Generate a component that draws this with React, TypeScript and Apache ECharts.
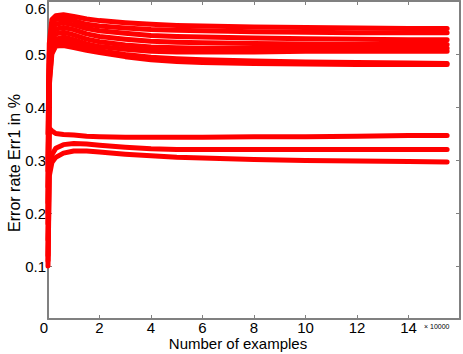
import React, { useEffect, useRef } from "react";
import * as echarts from "echarts";

// x positions (in units of 10000 examples)
const xs = [0, 0.05, 0.15, 0.3, 0.6, 1, 1.5, 2, 3, 4, 5, 6, 8, 10, 12, 14, 15.5];

// upper group of error curves
const u1 = [0.35, 0.52, 0.565, 0.572, 0.574, 0.571, 0.566, 0.563, 0.559, 0.556, 0.554, 0.553, 0.551, 0.55, 0.549, 0.548, 0.548];
const u2 = [0.3, 0.5, 0.555, 0.565, 0.567, 0.563, 0.556, 0.553, 0.549, 0.546, 0.545, 0.544, 0.542, 0.541, 0.54, 0.54, 0.54];
const u3 = [0.28, 0.49, 0.545, 0.556, 0.559, 0.555, 0.548, 0.544, 0.539, 0.535, 0.533, 0.532, 0.53, 0.529, 0.528, 0.527, 0.527];
const u4 = [0.25, 0.48, 0.535, 0.547, 0.55, 0.546, 0.538, 0.533, 0.528, 0.524, 0.522, 0.521, 0.52, 0.519, 0.518, 0.518, 0.518];
const u5 = [0.22, 0.47, 0.525, 0.538, 0.541, 0.536, 0.528, 0.523, 0.517, 0.513, 0.512, 0.511, 0.511, 0.511, 0.511, 0.511, 0.511];
const u6 = [0.2, 0.46, 0.515, 0.528, 0.532, 0.527, 0.519, 0.514, 0.509, 0.505, 0.504, 0.504, 0.504, 0.505, 0.505, 0.505, 0.505];
const u7 = [0.18, 0.45, 0.505, 0.52, 0.524, 0.52, 0.512, 0.506, 0.499, 0.494, 0.491, 0.489, 0.487, 0.485, 0.484, 0.483, 0.482];
const u8 = [0.15, 0.44, 0.5, 0.515, 0.516, 0.512, 0.507, 0.503, 0.495, 0.489, 0.486, 0.484, 0.482, 0.481, 0.48, 0.48, 0.48];

// lower group of error curves
const l1 = [0.12, 0.36, 0.355, 0.35, 0.348, 0.347, 0.345, 0.344, 0.343, 0.343, 0.343, 0.343, 0.344, 0.344, 0.345, 0.346, 0.346];
const l2 = [0.11, 0.29, 0.31, 0.322, 0.329, 0.331, 0.33, 0.328, 0.324, 0.321, 0.32, 0.32, 0.32, 0.32, 0.32, 0.32, 0.32];
const l3 = [0.1, 0.27, 0.295, 0.305, 0.313, 0.317, 0.317, 0.315, 0.311, 0.308, 0.305, 0.304, 0.301, 0.299, 0.298, 0.297, 0.296];

const allSeries = [u1, u2, u3, u4, u5, u6, u7, u8, l1, l2, l3];

const xTicks = [0, 2, 4, 6, 8, 10, 12, 14];
const yTicks = [0.1, 0.2, 0.3, 0.4, 0.5, 0.6];

const FONT = "'Liberation Sans', Arial, Helvetica, sans-serif";
const AXIS_COLOR = "#808080";

export default function App() {
  const ref = useRef<HTMLDivElement>(null);
  useEffect(() => {
    if (!ref.current) return;
    const chart = echarts.init(ref.current, undefined, { renderer: "svg" });
    const axisLine = { show: true, onZero: false, lineStyle: { color: AXIS_COLOR, width: 2 } };
    const axisTick = { show: true, inside: true, length: 4, lineStyle: { color: AXIS_COLOR, width: 1 } };
    chart.setOption({
      animation: false,
      backgroundColor: "#ffffff",
      grid: { left: 48, right: 2, top: 1, bottom: 35, containLabel: false },
      xAxis: [
        {
          type: "value",
          min: 0,
          max: 16,
          interval: 2,
          position: "bottom",
          axisLine,
          axisTick,
          splitLine: { show: false },
          axisLabel: {
            color: "#000",
            fontSize: 15,
            fontFamily: FONT,
            margin: 1,
            formatter: (v: number) =>
              v === 0 ? "{z|0}" : xTicks.includes(v) ? String(v) : "",
            rich: { z: { fontSize: 15, fontFamily: FONT, color: "#000", padding: [0, 8, 0, 0] } },
          },
        },
        {
          type: "value",
          min: 0,
          max: 16,
          interval: 2,
          position: "top",
          axisLine,
          axisTick,
          splitLine: { show: false },
          axisLabel: { show: false },
        },
      ],
      yAxis: [
        {
          type: "value",
          min: 0,
          max: 0.6,
          interval: 0.1,
          position: "left",
          axisLine,
          axisTick,
          splitLine: { show: false },
          axisLabel: {
            color: "#000",
            fontSize: 15,
            fontFamily: FONT,
            margin: 2,
            formatter: (v: number) => {
              const r = Math.round(v * 10) / 10;
              if (r === 0.6) return "{t|0.6}";
              return yTicks.includes(r) ? String(r) : "";
            },
            rich: { t: { fontSize: 15, fontFamily: FONT, color: "#000", padding: [14, 0, 0, 0] } },
          },
        },
        {
          type: "value",
          min: 0,
          max: 0.6,
          interval: 0.1,
          position: "right",
          axisLine,
          axisTick,
          splitLine: { show: false },
          axisLabel: { show: false },
        },
      ],
      graphic: [
        {
          type: "text",
          x: 238,
          y: 343,
          style: {
            text: "Number of examples",
            font: `15px ${FONT}`,
            fill: "#000",
            textAlign: "center",
            textVerticalAlign: "middle",
          },
        },
        {
          type: "text",
          x: 14,
          y: 163,
          rotation: Math.PI / 2,
          style: {
            text: "Error rate Err1 in %",
            font: `16px ${FONT}`,
            fill: "#000",
            textAlign: "center",
            textVerticalAlign: "middle",
          },
        },
        {
          type: "text",
          x: 424,
          y: 326,
          style: {
            text: "\u00d7 10000",
            font: `7px ${FONT}`,
            fill: "#000",
            textAlign: "left",
            textVerticalAlign: "middle",
          },
        },
      ],
      series: allSeries.map((ys) => ({
        type: "line",
        xAxisIndex: 0,
        yAxisIndex: 0,
        symbol: "none",
        silent: true,
        lineStyle: { color: "#ff0000", width: 5, cap: "round", join: "round" },
        data: xs.map((x, i) => [x, ys[i]]),
      })),
    });
    return () => chart.dispose();
  }, []);
  return (
    <div
      ref={ref}
      style={{ position: "fixed", left: 0, top: 0, width: 463, height: 354, background: "#fff" }}
    />
  );
}
